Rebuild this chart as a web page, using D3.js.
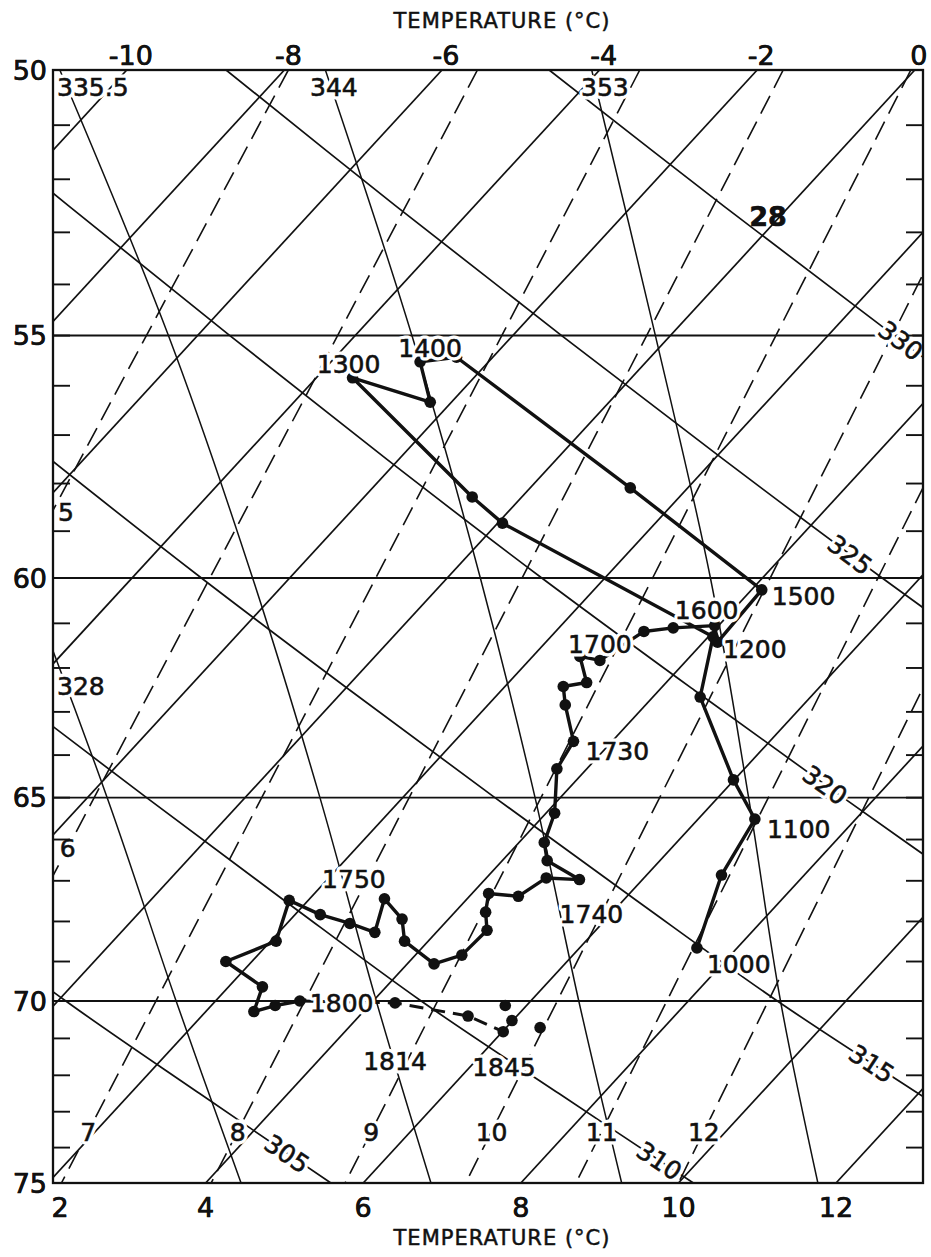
<!DOCTYPE html>
<html>
<head>
<meta charset="utf-8">
<script src="https://cdn.jsdelivr.net/npm/d3@7"></script>
<style>
  body { margin: 0; background: #fff; }
  text { font-family: "DejaVu Sans", "Liberation Sans", sans-serif; fill: #111; }
</style>
</head>
<body>
<svg id="chart" width="931" height="1257"></svg>
<script>
// ---------------- data ----------------
// Pressure (cb) and temperature (°C) reference values
const pressureLabels = [50, 55, 60, 65, 70, 75];
const isobars = [55, 60, 65, 70];
const pressureMinorTicks = d3.range(51, 75);
const topTempTicks = [-10, -8, -6, -4, -2, 0];
const bottomTempTicks = [2, 4, 6, 8, 10, 12];
const isotherms = d3.range(-10, 13, 2);

// Dry adiabats: potential temperature (K) with [T °C, p cb] points along each
const dryAdiabats = [
  { theta: 305, labelP: 74.17, pts: [[-5.67, 65], [-2.75, 67.5], [0.10, 70], [2.88, 72.5], [5.59, 75]] },
  { theta: 310, labelP: 74.37, pts: [[-4.30, 62.5], [-1.25, 65], [1.72, 67.5], [4.61, 70], [7.44, 72.5], [10.19, 75]] },
  { theta: 315, labelP: 71.68, pts: [[-9.81, 55], [-6.42, 57.5], [-3.12, 60], [0.07, 62.5], [3.17, 65], [6.19, 67.5], [9.13, 70], [12.00, 72.5], [14.80, 75]] },
  { theta: 320, labelP: 64.7, pts: [[-12.84, 50], [-9.15, 52.5], [-5.59, 55], [-2.15, 57.5], [1.20, 60], [4.44, 62.5], [7.59, 65], [10.66, 67.5]] },
  { theta: 325, labelP: 59.5, pts: [[-8.74, 50], [-5.00, 52.5], [-1.38, 55], [2.12, 57.5], [5.52, 60], [8.81, 62.5]] },
  { theta: 330, labelP: 55.1, pts: [[-4.64, 50], [-0.84, 52.5], [2.84, 55], [6.39, 57.5]] }
];

// Saturation (pseudo-adiabatic) lines, labelled by equivalent potential temperature (K)
const moistAdiabats = [
  { label: "328",   labelP: 62.4, pts: [[-9.45, 55], [-5.36, 60], [-1.75, 65], [1.50, 70], [4.45, 75]] },
  { label: "335.5", labelP: 50.3, pts: [[-10.85, 50], [-6.37, 55], [-2.47, 60], [0.95, 65], [4.04, 70], [6.86, 75]] },
  { label: "344",   labelP: 50.3, pts: [[-7.48, 50], [-3.28, 55], [0.42, 60], [3.68, 65], [6.61, 70], [9.28, 75]] },
  { label: "353",   labelP: 50.3, pts: [[-4.10, 50], [-0.19, 55], [3.34, 60], [6.39, 65], [9.17, 70], [11.77, 75]] }
];

// Saturation mixing-ratio lines (g/kg): temperature at 50 cb and at 75 cb
const mixingRatios = [
  { w: 5,  t50: -7.95, t75: -2.50, labelP: 58.6 },
  { w: 6,  t50: -5.55, t75: 0.01,  labelP: 66.2 },
  { w: 7,  t50: -3.49, t75: 2.17,  labelP: 73.55 },
  { w: 8,  t50: -1.67, t75: 4.07,  labelP: 73.55 },
  { w: 9,  t50: -0.05, t75: 5.77,  labelP: 73.55 },
  { w: 10, t50: 1.41,  t75: 7.30,  labelP: 73.55 },
  { w: 11, t50: 2.75,  t75: 8.70,  labelP: 73.55 },
  { w: 12, t50: 3.98,  t75: 10.00, labelP: 73.55 }
];

// Aircraft track: [temperature °C, pressure cb], in time order
const flightTrack = [
  [7.49, 68.66], [6.95, 66.86], [6.72, 65.51], [5.99, 64.58], [4.60, 62.66], [4.06, 61.30],
  [0.06, 58.83], [-0.63, 58.28], [-3.54, 55.84], [-2.27, 56.33], [-2.87, 55.52], [-2.46, 55.43],
  [1.27, 58.09], [4.13, 60.26], [4.18, 61.42], [3.95, 61.05], [3.45, 61.10], [3.12, 61.18], [2.90, 61.83],
  [2.60, 61.74], [2.99, 62.33], [2.74, 62.42], [2.98, 62.84], [3.51, 63.68], [3.62, 64.32], [4.11, 65.37],
  [4.32, 66.07], [4.57, 66.51], [5.20, 66.97], [4.76, 66.93], [4.62, 67.38], [4.21, 67.31], [4.39, 67.77],
  [4.62, 68.22], [4.59, 68.84], [4.34, 69.06], [3.70, 68.49], [3.41, 67.94], [2.95, 67.44], [3.22, 68.27],
  [2.80, 68.05], [2.32, 67.83], [1.76, 67.48], [2.07, 68.49], [1.67, 69.00], [2.43, 69.64], [2.61, 70.28],
  [2.81, 70.12], [3.07, 70.00]
];
// Late descent (dashed) and the 1845 observations
const lateTrack = [[4.30, 70.05], [5.38, 70.40], [6.01, 70.82]];
const lateCluster = [[5.73, 70.12], [5.99, 70.52], [6.43, 70.71]];

// Time labels: index into flightTrack
const timeMarks = [
  { time: "1000", i: 0 }, { time: "1100", i: 2 }, { time: "1200", i: 5 }, { time: "1300", i: 8 },
  { time: "1400", i: 10 }, { time: "1500", i: 13 }, { time: "1600", i: 15 }, { time: "1700", i: 18 },
  { time: "1730", i: 23 }, { time: "1740", i: 28 }, { time: "1750", i: 40 }, { time: "1800", i: 48 }
];

// ---------------- layout ----------------
const frame = { left: 53, right: 923, top: 70, bottom: 1183 };
const y = d3.scaleLog().domain([50, 60, 70, 75]).range([70, 578, 1001, 1183]);
const tTop = d3.scaleLinear().domain([-10, 0]).range([126.8, 914.8]);
const skew = 1024.4 / (frame.bottom - frame.top);
const px = (T, p) => tTop(T) - skew * (y(p) - frame.top);

const labelOffsets = {
  "1000": [10, 16, "start"], "1100": [12, 10, "start"], "1200": [10, 12, "start"],
  "1300": [-4, -14, "middle"], "1400": [10, -14, "middle"], "1500": [10, 6, "start"],
  "1600": [-8, -16, "middle"], "1700": [0, -16, "middle"], "1730": [12, 10, "start"],
  "1740": [12, 34, "middle"], "1750": [4, -44, "middle"], "1800": [10, 2, "start"]
};

const svg = d3.select("#chart");
svg.append("defs").append("clipPath").attr("id", "plot-clip")
  .append("rect")
  .attr("x", frame.left).attr("y", frame.top)
  .attr("width", frame.right - frame.left).attr("height", frame.bottom - frame.top);

const grid = svg.append("g").attr("clip-path", "url(#plot-clip)")
  .attr("fill", "none").attr("stroke", "#111");

// isobars
grid.selectAll(".isobar").data(isobars).join("line")
  .attr("x1", frame.left).attr("x2", frame.right)
  .attr("y1", d => y(d)).attr("y2", d => y(d))
  .attr("stroke-width", 1.9);

// isotherms (straight, skewed)
grid.selectAll(".isotherm").data(isotherms).join("line")
  .attr("x1", d => px(d, 50)).attr("y1", y(50))
  .attr("x2", d => px(d, 75)).attr("y2", y(75))
  .attr("stroke-width", 1.7);

const curve = d3.line().x(d => px(d[0], d[1])).y(d => y(d[1])).curve(d3.curveCatmullRom);

// dry adiabats
grid.selectAll(".dry").data(dryAdiabats).join("path")
  .attr("d", d => curve(d.pts)).attr("stroke-width", 1.7);

// moist adiabats
grid.selectAll(".moist").data(moistAdiabats).join("path")
  .attr("d", d => curve(d.pts)).attr("stroke-width", 1.5);

// mixing ratio lines
grid.selectAll(".mix").data(mixingRatios).join("line")
  .attr("x1", d => px(d.t50, 50)).attr("y1", y(50))
  .attr("x2", d => px(d.t75, 75)).attr("y2", y(75))
  .attr("stroke-width", 1.6).attr("stroke-dasharray", "20,9");

// point along a polyline of [T,p] at pressure p
function along(pts, p) {
  let k = 0;
  while (k < pts.length - 2 && pts[k + 1][1] < p) k++;
  const a = pts[k], b = pts[k + 1];
  const f = (p - a[1]) / (b[1] - a[1]);
  const T = a[0] + f * (b[0] - a[0]);
  const ang = Math.atan2(y(b[1]) - y(a[1]), px(b[0], b[1]) - px(a[0], a[1])) * 180 / Math.PI;
  return { x: px(T, p), y: y(p), ang };
}

// text with a white knock-out behind it, drawn slightly heavy like pen lettering
function label(parent, x, yy, str, opts = {}) {
  const g = parent.append("g").attr("transform", `translate(${x},${yy})${opts.rotate ? ` rotate(${opts.rotate})` : ""}`);
  const size = opts.size || 25;
  const anchor = opts.anchor || "middle";
  g.append("text").attr("text-anchor", anchor).attr("dy", "0.36em").attr("font-size", size)
    .attr("stroke", "#fff").attr("stroke-width", opts.halo === 0 ? 0 : 7).attr("stroke-linejoin", "round")
    .attr("fill", "#fff").text(str);
  g.append("text").attr("text-anchor", anchor).attr("dy", "0.36em").attr("font-size", size)
    .attr("font-weight", opts.weight || "normal")
    .attr("stroke", "#111").attr("stroke-width", 0.6).text(str);
  return g;
}

const labels = svg.append("g");

// dry adiabat labels, rotated with the line
dryAdiabats.forEach(d => {
  const a = along(d.pts, d.labelP);
  label(labels, a.x, a.y, d.theta, { rotate: a.ang });
});

// moist adiabat labels
moistAdiabats.forEach(d => {
  const a = along(d.pts, d.labelP);
  const start = d.label === "335.5" || d.label === "328";
  label(labels, start ? frame.left + 4 : a.x + (d.label === "353" ? 10 : 4), a.y, d.label,
    { anchor: start ? "start" : "middle" });
});

// mixing ratio labels
mixingRatios.forEach(d => {
  const t = d.t50 + (d.t75 - d.t50) * ((y(d.labelP) - y(50)) / (y(75) - y(50)));
  label(labels, Math.max(frame.left + 13, px(t, d.labelP)), y(d.labelP), d.w);
});

// bold figure mark
label(labels, px(-0.15, 52.7), y(52.7), "28", { size: 27, weight: "bold", halo: 0 });

// frame and ticks
svg.append("rect")
  .attr("x", frame.left).attr("y", frame.top)
  .attr("width", frame.right - frame.left).attr("height", frame.bottom - frame.top)
  .attr("fill", "none").attr("stroke", "#111").attr("stroke-width", 2.3);

svg.selectAll(".tick-l").data(pressureMinorTicks).join("line")
  .attr("x1", frame.left).attr("x2", frame.left + 17)
  .attr("y1", d => y(d)).attr("y2", d => y(d))
  .attr("stroke", "#111").attr("stroke-width", 1.9);
svg.selectAll(".tick-r").data(pressureMinorTicks).join("line")
  .attr("x1", frame.right).attr("x2", frame.right - 17)
  .attr("y1", d => y(d)).attr("y2", d => y(d))
  .attr("stroke", "#111").attr("stroke-width", 1.9);

const axisText = svg.append("g");
pressureLabels.forEach(p => label(axisText, frame.left - 6, y(p), p, { anchor: "end", size: 27, halo: 0 }));
topTempTicks.forEach(t => label(axisText, px(t, 50) + 4, 55, t < 0 ? "-" + Math.abs(t) : t, { size: 27, halo: 0 }));
bottomTempTicks.forEach(t => label(axisText, Math.max(frame.left + 7, px(t, 75)), 1207, t, { size: 27, halo: 0 }));

svg.append("text").attr("x", 502).attr("y", 20).attr("dy", "0.36em")
  .attr("text-anchor", "middle").attr("font-size", 21).attr("letter-spacing", 1)
  .attr("stroke", "#111").attr("stroke-width", 0.5)
  .text("TEMPERATURE (°C)");
svg.append("text").attr("x", 502).attr("y", 1237).attr("dy", "0.36em")
  .attr("text-anchor", "middle").attr("font-size", 21).attr("letter-spacing", 1)
  .attr("stroke", "#111").attr("stroke-width", 0.5)
  .text("TEMPERATURE (°C)");

// ---------------- flight track ----------------
const track = d3.line().x(d => px(d[0], d[1])).y(d => y(d[1]));
const tg = svg.append("g");
tg.append("path").attr("d", track(flightTrack))
  .attr("fill", "none").attr("stroke", "#111").attr("stroke-width", 3.4).attr("stroke-linejoin", "round");
tg.append("path").attr("d", track([flightTrack[flightTrack.length - 1], ...lateTrack]))
  .attr("fill", "none").attr("stroke", "#111").attr("stroke-width", 3).attr("stroke-dasharray", "14,8");
tg.selectAll(".dot").data([...flightTrack, ...lateTrack, ...lateCluster]).join("circle")
  .attr("cx", d => px(d[0], d[1])).attr("cy", d => y(d[1])).attr("r", 5.8).attr("fill", "#111");

timeMarks.forEach(d => {
  const pt = flightTrack[d.i], o = labelOffsets[d.time];
  label(tg, px(...pt) + o[0], y(pt[1]) + o[1], d.time, { anchor: o[2] });
});

const endLate = lateTrack[0];
label(tg, px(...endLate), y(endLate[1]) + 58, "1814");
const c = lateCluster[1];
label(tg, px(...c) - 8, y(c[1]) + 46, "1845");
</script>
</body>
</html>
